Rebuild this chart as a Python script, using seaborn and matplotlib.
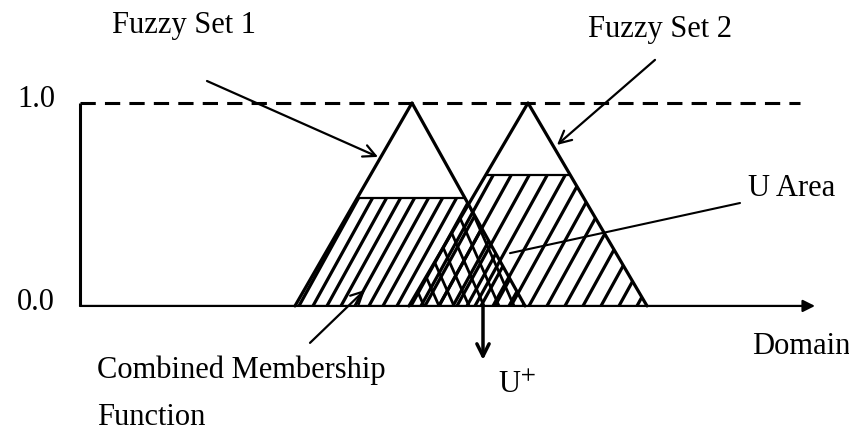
import numpy as np
import pandas as pd
import seaborn as sns
import matplotlib
matplotlib.use('Agg')
import matplotlib.pyplot as plt
from matplotlib.patches import Polygon

sns.set_theme(style="white")
plt.rcParams['font.family'] = ['Liberation Serif', 'DejaVu Serif']
plt.rcParams['mathtext.fontset'] = 'stix'
plt.rcParams['text.color'] = 'black'

# data: two triangular fuzzy sets on the domain, clipped at their activation levels
set1_x = [2.15, 3.32, 4.45]
set1_mu = [0.0, 1.0, 0.0]
set2_x = [3.29, 4.48, 5.67]
set2_mu = [0.0, 1.0, 0.0]
clip1 = 0.53
clip2 = 0.645
u_plus = 4.03
y_ticks = [0.0, 1.0]
y_tick_labels = ["0.0", "1.0"]

fs = 22
lw = 2.3

fig = plt.figure(figsize=(8.49, 4.32), dpi=100)
ax = fig.add_axes([0, 0, 1, 1])
ax.set_xlim(-0.8, 7.69)
ax.set_ylim(-0.621, 1.507)
ax.axis('off')

tri = pd.concat([
    pd.DataFrame({'x': set1_x, 'mu': set1_mu, 'set': 'Fuzzy Set 1'}),
    pd.DataFrame({'x': set2_x, 'mu': set2_mu, 'set': 'Fuzzy Set 2'}),
])
sns.lineplot(data=tri, x='x', y='mu', units='set', estimator=None, sort=False,
             color='black', lw=lw, ax=ax, legend=False)


def clipped(xs, c):
    a, p, b = xs
    xl = a + (p - a) * c
    xr = b - (b - p) * c
    return [(a, 0), (xl, c), (xr, c), (b, 0)]


def hatch(poly_pts, spacing, slant, lw_h=2.3):
    patch = Polygon(poly_pts, closed=True, fill=False, lw=0)
    ax.add_patch(patch)
    xs = [p[0] for p in poly_pts]
    for x0 in np.arange(min(xs) - 1.5, max(xs) + 1.5, spacing):
        ln, = ax.plot([x0, x0 + slant], [0, 1], color='black', lw=lw_h,
                      solid_capstyle='butt')
        ln.set_clip_path(patch)


p1 = clipped(set1_x, clip1)
p2 = clipped(set2_x, clip2)
hatch(p1, 0.14, 1.12)
hatch(p2, 0.18, 1.12)

# overlap (intersection of the two sets)
a1, pk1, b1 = set1_x
a2, pk2, b2 = set2_x
xc = (b1 / (b1 - pk1) + a2 / (pk2 - a2)) / (1 / (b1 - pk1) + 1 / (pk2 - a2))
yc = (b1 - xc) / (b1 - pk1)
hatch([(a2, 0), (xc, yc), (b1, 0)], 0.15, -0.9, lw_h=2.0)

# clip levels
ax.plot([p1[1][0], p1[2][0]], [clip1, clip1], color='black', lw=1.6)
ax.plot([p2[1][0], p2[2][0]], [clip2, clip2], color='black', lw=1.6)

# axes
ax.plot([0, 0], [0, 1.0], color='black', lw=2.2, solid_capstyle='butt')
ax.plot([0, 7.2], [1.0, 1.0], color='black', lw=2.2, dashes=(5, 3))
ax.annotate('', xy=(7.35, 0), xytext=(0, 0),
            arrowprops=dict(arrowstyle='-|>', lw=1.6, color='black',
                            mutation_scale=18, shrinkA=0, shrinkB=0))
for t, lab in zip(y_ticks, y_tick_labels):
    ax.text(-0.63, t + 0.015, lab, fontsize=fs, ha='left', va='center')

# labels and pointers
arrow = dict(arrowstyle='->', lw=1.6, color='black', mutation_scale=22,
             shrinkA=0, shrinkB=0)
ax.text(0.32, 1.38, "Fuzzy Set 1", fontsize=fs, ha='left', va='center')
ax.annotate('', xy=(2.98, 0.734), xytext=(1.27, 1.108), arrowprops=arrow)
ax.text(5.08, 1.36, "Fuzzy Set 2", fontsize=fs, ha='left', va='center')
ax.annotate('', xy=(4.77, 0.793), xytext=(5.75, 1.212), arrowprops=arrow)
ax.text(6.68, 0.576, "U Area", fontsize=fs, ha='left', va='center')
ax.annotate('', xy=(4.3, 0.26), xytext=(6.6, 0.507),
            arrowprops=dict(arrowstyle='-', lw=1.5, color='black',
                            shrinkA=0, shrinkB=0))
ax.text(6.72, -0.2, "Domain", fontsize=fs, ha='left', va='center')
ax.text(0.17, -0.315, "Combined Membership", fontsize=fs, ha='left', va='center')
ax.text(0.17, -0.55, "Function", fontsize=fs, ha='left', va='center')
ax.annotate('', xy=(2.85, 0.079), xytext=(2.3, -0.182), arrowprops=arrow)
ax.annotate('', xy=(u_plus, -0.266), xytext=(u_plus, 0),
            arrowprops=dict(arrowstyle='->', lw=2.5, color='black',
                            mutation_scale=22, shrinkA=0, shrinkB=0))
ax.text(u_plus + 0.15, -0.39, r"U$^{+}$", fontsize=fs, ha='left', va='center')

fig.savefig("out.png", dpi=100)
